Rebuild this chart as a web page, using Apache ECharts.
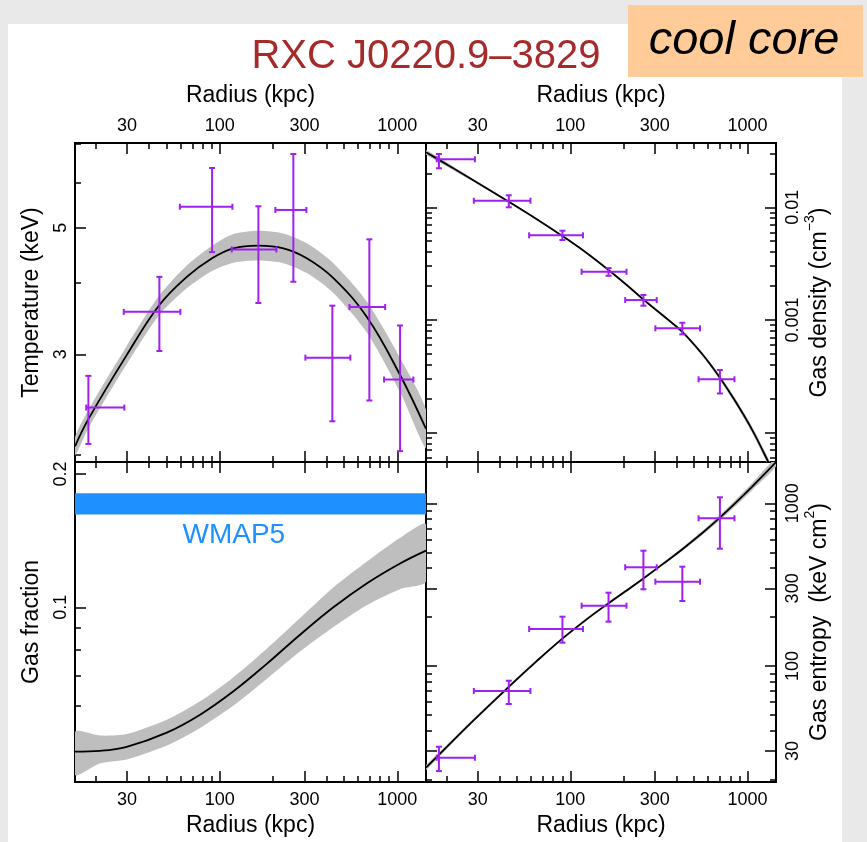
<!DOCTYPE html>
<html><head><meta charset="utf-8">
<script src="https://cdn.jsdelivr.net/npm/echarts@6/dist/echarts.min.js"></script>
<style>html,body{margin:0;padding:0;background:#e9e9e9}#c{width:867px;height:842px}</style>
</head><body><div id="c"></div>
<script>
// ---------------- tick values ----------------
const xMajorTicks = [30, 100, 300, 1000];
const xMinorTicks = [20, 40, 50, 60, 70, 80, 90, 200, 400, 500, 600, 700, 800, 900];
const tempLabelTicks = [3, 5];
const tempMinorTicks = [2, 4, 6, 7];
const densLabelTicks = [0.001, 0.01];
const densMajorTicks = [0.0001, 0.001, 0.01];
const densMinorTicks = [0.00006, 0.00007, 0.00008, 0.00009, 0.0002, 0.0003, 0.0004, 0.0005, 0.0006, 0.0007, 0.0008, 0.0009,
  0.002, 0.003, 0.004, 0.005, 0.006, 0.007, 0.008, 0.009, 0.02, 0.03];
const fracLabelTicks = [0.1, 0.2];
const fracMinorTicks = [0.05, 0.06, 0.07, 0.08, 0.09];
const entLabelTicks = [30, 100, 300, 1000];
const entMinorTicks = [20, 40, 50, 60, 70, 80, 90, 200, 400, 500, 600, 700, 800, 900];

// ---------------- temperature data ----------------
const tempR   = [18.2, 45.7, 90.5, 165, 259.6, 430.5, 695.6, 1036];
const tempRlo = [17.7, 28.8, 59.6, 116.8, 205.6, 303.4, 537.4, 841.7];
const tempRhi = [29.0, 60.0, 117.8, 208.4, 307.4, 543.8, 853.8, 1231];
const tempT   = [2.42, 3.56, 5.44, 4.58, 5.37, 2.96, 3.63, 2.71];
const tempTlo = [2.09, 3.04, 4.53, 3.69, 4.02, 2.29, 2.49, 2.03];
const tempThi = [2.75, 4.10, 6.36, 5.45, 6.73, 3.65, 4.77, 3.37];

const tempModelR  = [15.3, 18.2, 29.9, 45.7, 65.2, 90.5, 119.4, 165, 228, 308.9, 436.3, 672, 1036, 1450];
const tempModelT  = [2.07, 2.31, 2.99, 3.66, 4.10, 4.42, 4.60, 4.65, 4.60, 4.42, 4.08, 3.49, 2.76, 2.22];
const tempModelLo = [1.995, 2.227, 2.882, 3.52, 3.916, 4.20, 4.342, 4.38, 4.333, 4.163, 3.843, 3.28, 2.576, 2.053];
const tempModelHi = [2.148, 2.397, 3.102, 3.806, 4.293, 4.65, 4.873, 4.937, 4.884, 4.693, 4.332, 3.714, 2.957, 2.401];

// ---------------- density / entropy bins ----------------
const binR   = [18.1, 44.9, 90.2, 164.3, 258.6, 428.9, 699.3];
const binRlo = [17.6, 28.5, 58.5, 115.8, 204, 302, 529.9];
const binRhi = [28.9, 59.5, 117.8, 207.5, 307.4, 539.6, 845];

const densN   = [0.02667, 0.01144, 0.00564, 0.002683, 0.001504, 0.000844, 0.000298];
const densNlo = [0.0222, 0.0100, 0.00513, 0.00247, 0.00134, 0.000746, 0.000223];
const densNhi = [0.0297, 0.01278, 0.0062, 0.00289, 0.001667, 0.000946, 0.00036];

const densModelR  = [15.3, 18.13, 27.1, 44.9, 64.3, 90.1, 123, 164.3, 206.6, 258.6, 332.3, 428.9, 558.2, 699, 860, 1067, 1297, 1450];
const densModelN  = [0.03083, 0.02636, 0.01811, 0.01122, 0.00789, 0.00557, 0.003954, 0.00278, 0.002065, 0.00152, 0.001102, 0.000785, 0.000494, 0.000308, 0.000187, 0.000105, 0.0000571, 0.0000388];
const densModelLo = [0.02944, 0.02529, 0.01762, 0.01096, 0.00775, 0.00547, 0.003882, 0.002729, 0.002027, 0.001492, 0.001077, 0.000764, 0.000476, 0.000294, 0.000177, 0.0000984, 0.0000533, 0.0000362];
const densModelHi = [0.03228, 0.02748, 0.01862, 0.01148, 0.00804, 0.00567, 0.004028, 0.002832, 0.002103, 0.001548, 0.001128, 0.000807, 0.000513, 0.000323, 0.000198, 0.000112, 0.0000612, 0.0000416];

const entK   = [27.3, 70.2, 168.8, 234.8, 404.3, 329.7, 808.9];
const entKlo = [22.6, 58.4, 139.1, 187.3, 296.1, 250.8, 526];
const entKhi = [31.9, 81.2, 200.9, 282.2, 511.2, 407.7, 1088.6];

const entModelR  = [15.3, 18.13, 27.1, 44.9, 64.3, 90.1, 123, 164.3, 206.6, 258.6, 332.3, 428.9, 558.2, 699, 860, 1067, 1450];
const entModelK  = [23.7, 28.5, 44.1, 74.5, 106.7, 147.2, 192.8, 243.2, 289.7, 345.1, 422.7, 522.4, 659.2, 816.6, 1009, 1271, 1791];
const entModelLo = [22.9, 27.66, 43.1, 72.97, 104.75, 144.5, 189.3, 238.8, 284.4, 338.8, 414, 509.3, 639.8, 787.1, 965.8, 1208, 1683];
const entModelHi = [24.5, 29.37, 45.13, 76.06, 108.68, 149.9, 196.4, 247.7, 295.1, 351.5, 431.6, 535.8, 679.2, 847.2, 1054, 1337, 1906];

// ---------------- gas fraction ----------------
const fracModelR  = [15.3, 21.2, 29.9, 50.3, 77.5, 119.4, 183.9, 283.2, 436.3, 672, 1036, 1450];
const fracModelF  = [0.0472, 0.0474, 0.0484, 0.0521, 0.0572, 0.0646, 0.0745, 0.0867, 0.1000, 0.1132, 0.1256, 0.1343];
const fracModelLo = [0.0418, 0.0444, 0.0453, 0.0487, 0.0534, 0.0600, 0.0689, 0.0794, 0.0902, 0.1011, 0.1099, 0.1143];
const fracModelHi = [0.0523, 0.0513, 0.0517, 0.0557, 0.0613, 0.0695, 0.0806, 0.0946, 0.1109, 0.1267, 0.1435, 0.1542];

const wmapR  = [15.3, 1450];
const wmapLo = [0.162, 0.162];
const wmapHi = [0.181, 0.181];
const wmapLabelR = 120;

// ---------------- axis ranges ----------------
const X_MIN = 15.3, X_MAX = 1450;
const TEMP_RANGE = [1.943, 7.035];
const DENS_RANGE = [0.000055, 0.0372];
const FRAC_RANGE = [0.0403, 0.2129];
const ENT_RANGE  = [19.36, 1794];

// ---------------- styling ----------------
const FONT = '"Liberation Sans", Arial, Helvetica, sans-serif';
const PURPLE = '#A020F0';
const BAND = '#BEBEBE';
const WMAP = '#1E90FF';
const MAJ = 11, MIN = 6;
const tickLine = {color: '#000', width: 1.5};
const fmt = v => String(+(+v).toPrecision(6));

const grids = [
  {left: 75, top: 143, width: 351, height: 319},
  {left: 426, top: 143, width: 350, height: 319},
  {left: 75, top: 462, width: 351, height: 320},
  {left: 426, top: 462, width: 350, height: 320}
].map(g => Object.assign({show: true, borderColor: '#000', borderWidth: 2, backgroundColor: 'transparent',
  containLabel: false, outerBoundsMode: 'none'}, g));

const xAxes = [], yAxes = [];
function axisBase(type, gridIndex, position, range, ticks, len) {
  return {
    type: 'log', logBase: 10, gridIndex, position, offset: 0, min: range[0], max: range[1],
    axisLine: {show: false}, splitLine: {show: false}, minorTick: {show: false}, minorSplitLine: {show: false},
    axisTick: {show: true, inside: true, length: len, customValues: ticks, lineStyle: tickLine},
    axisLabel: {show: false}, axisPointer: {show: false}, nameMoveOverlap: false
  };
}
const nameStyleLeft = {fontSize: 23, fontFamily: FONT, color: '#000', lineHeight: 26};
const nameStyleRight = {fontSize: 23, fontFamily: FONT, color: '#000', lineHeight: 34,
  rich: {sup: {fontSize: 14, fontFamily: FONT, color: '#000', verticalAlign: 'top', lineHeight: 12}}};

const panels = [
  {grid: 0, xLabelPos: 'top', yRange: TEMP_RANGE, yLabels: tempLabelTicks, yMajor: tempLabelTicks, yMinor: tempMinorTicks,
   ySides: ['left'], yLabelSide: 'left', yName: 'Temperature (keV)'},
  {grid: 1, xLabelPos: 'top', yRange: DENS_RANGE, yLabels: densLabelTicks, yMajor: densMajorTicks, yMinor: densMinorTicks,
   ySides: ['left', 'right'], yLabelSide: 'right', yName: 'Gas density (cm{sup|−3})'},
  {grid: 2, xLabelPos: 'bottom', yRange: FRAC_RANGE, yLabels: fracLabelTicks, yMajor: fracLabelTicks, yMinor: fracMinorTicks,
   ySides: ['left'], yLabelSide: 'left', yName: 'Gas fraction'},
  {grid: 3, xLabelPos: 'bottom', yRange: ENT_RANGE, yLabels: entLabelTicks, yMajor: entLabelTicks, yMinor: entMinorTicks,
   ySides: ['left', 'right'], yLabelSide: 'right', yName: 'Gas entropy  (keV cm{sup|2})'}
];

panels.forEach(p => {
  p.xIdx = xAxes.length;
  ['top', 'bottom'].forEach(pos => {
    const maj = axisBase('x', p.grid, pos, [X_MIN, X_MAX], xMajorTicks, MAJ);
    if (pos === p.xLabelPos) {
      maj.axisLabel = {show: true, customValues: xMajorTicks, formatter: fmt, margin: pos === 'top' ? 8 : 9,
        fontSize: 18, fontFamily: FONT, color: '#000'};
      maj.name = 'Radius (kpc)';
      maj.nameLocation = 'middle';
      maj.nameGap = pos === 'top' ? 36 : 32;
      maj.nameTextStyle = {fontSize: 23, fontFamily: FONT, color: '#000'};
    }
    xAxes.push(maj);
    xAxes.push(axisBase('x', p.grid, pos, [X_MIN, X_MAX], xMinorTicks, MIN));
  });
  p.yIdx = yAxes.length;
  p.ySides.forEach(side => {
    const maj = axisBase('y', p.grid, side, p.yRange, p.yMajor, MAJ);
    if (side === p.yLabelSide) {
      maj.axisLabel = {show: true, customValues: p.yLabels, formatter: fmt, rotate: 90, margin: side === 'left' ? 5 : 8,
        fontSize: 18, fontFamily: FONT, color: '#000'};
      maj.name = p.yName;
      maj.nameLocation = 'middle';
      maj.nameRotate = 90;
      maj.nameGap = side === 'left' ? 30 : 27;
      maj.nameTextStyle = side === 'left' ? nameStyleLeft : nameStyleRight;
    }
    yAxes.push(maj);
    yAxes.push(axisBase('y', p.grid, side, p.yRange, p.yMinor, MIN));
  });
});

// ---------------- series helpers ----------------
function bandSeries(p, rArr, loArr, hiArr, color, smooth) {
  return {
    type: 'custom', xAxisIndex: p.xIdx, yAxisIndex: p.yIdx, clip: true, silent: true, z: 1,
    data: [[rArr[0], loArr[0]]],
    renderItem: (params, api) => {
      const pts = [];
      for (let i = 0; i < rArr.length; i++) pts.push(api.coord([rArr[i], hiArr[i]]));
      for (let i = rArr.length - 1; i >= 0; i--) pts.push(api.coord([rArr[i], loArr[i]]));
      return {type: 'polygon', shape: {points: pts, smooth: smooth}, style: {fill: color, stroke: null}};
    }
  };
}
function lineSeries(p, rArr, vArr) {
  return {
    type: 'line', xAxisIndex: p.xIdx, yAxisIndex: p.yIdx, data: rArr.map((r, i) => [r, vArr[i]]),
    showSymbol: false, symbol: 'none', smooth: 0.4, clip: true, silent: true, z: 2,
    lineStyle: {color: '#000', width: 1.8}
  };
}
function errSeries(p, r, rlo, rhi, v, vlo, vhi) {
  return {
    type: 'custom', xAxisIndex: p.xIdx, yAxisIndex: p.yIdx, clip: true, silent: true, z: 3,
    encode: {x: [0, 2, 3], y: [1, 4, 5]},
    data: r.map((x, i) => [x, v[i], rlo[i], rhi[i], vlo[i], vhi[i]]),
    renderItem: (params, api) => {
      const c = api.coord([api.value(0), api.value(1)]);
      const xl = api.coord([api.value(2), api.value(1)]);
      const xh = api.coord([api.value(3), api.value(1)]);
      const yl = api.coord([api.value(0), api.value(4)]);
      const yh = api.coord([api.value(0), api.value(5)]);
      const cap = 3;
      const st = {stroke: PURPLE, lineWidth: 2, fill: null};
      const L = (x1, y1, x2, y2) => ({type: 'line', shape: {x1, y1, x2, y2}, style: st});
      return {type: 'group', children: [
        L(xl[0], c[1], xh[0], c[1]),
        L(xl[0], c[1] - cap, xl[0], c[1] + cap),
        L(xh[0], c[1] - cap, xh[0], c[1] + cap),
        L(c[0], yl[1], c[0], yh[1]),
        L(c[0] - cap, yl[1], c[0] + cap, yl[1]),
        L(c[0] - cap, yh[1], c[0] + cap, yh[1])
      ]};
    }
  };
}

const [pT, pD, pF, pE] = panels;
const series = [
  bandSeries(pT, tempModelR, tempModelLo, tempModelHi, BAND, 0.25),
  lineSeries(pT, tempModelR, tempModelT),
  errSeries(pT, tempR, tempRlo, tempRhi, tempT, tempTlo, tempThi),

  bandSeries(pD, densModelR, densModelLo, densModelHi, BAND, 0.2),
  lineSeries(pD, densModelR, densModelN),
  errSeries(pD, binR, binRlo, binRhi, densN, densNlo, densNhi),

  bandSeries(pF, wmapR, wmapLo, wmapHi, WMAP, 0),
  {
    type: 'custom', xAxisIndex: pF.xIdx, yAxisIndex: pF.yIdx, silent: true, z: 3,
    data: [[wmapLabelR, wmapLo[0]]],
    renderItem: (params, api) => {
      const c = api.coord([api.value(0), api.value(1)]);
      return {type: 'text', x: c[0], y: c[1] + 21,
        style: {text: 'WMAP5', fill: WMAP, fontSize: 28, fontFamily: FONT, align: 'center', verticalAlign: 'middle'}};
    }
  },
  bandSeries(pF, fracModelR, fracModelLo, fracModelHi, BAND, 0.25),
  lineSeries(pF, fracModelR, fracModelF),

  bandSeries(pE, entModelR, entModelLo, entModelHi, BAND, 0.2),
  lineSeries(pE, entModelR, entModelK),
  errSeries(pE, binR, binRlo, binRhi, entK, entKlo, entKhi)
];

const chart = echarts.init(document.getElementById('c'), null, {renderer: 'canvas', width: 867, height: 842});
chart.setOption({
  backgroundColor: '#e9e9e9',
  animation: false,
  textStyle: {fontFamily: FONT},
  graphic: {elements: [
    {type: 'rect', z: -100, shape: {x: 8, y: 24, width: 834, height: 818}, style: {fill: '#ffffff'}},
    {type: 'text', x: 426, y: 57, z: 10,
     style: {text: 'RXC J0220.9–3829', fill: '#A52A2A', fontSize: 40, fontFamily: FONT, align: 'center', verticalAlign: 'middle'}},
    {type: 'rect', z: 10, shape: {x: 628, y: 5, width: 235, height: 72}, style: {fill: '#FFCC99'}},
    {type: 'text', x: 744, y: 41, z: 11,
     style: {text: 'cool core', fill: '#000', fontSize: 47, fontStyle: 'italic', fontFamily: FONT, align: 'center', verticalAlign: 'middle'}}
  ]},
  grid: grids,
  xAxis: xAxes,
  yAxis: yAxes,
  series: series
});
</script>
</body></html>
